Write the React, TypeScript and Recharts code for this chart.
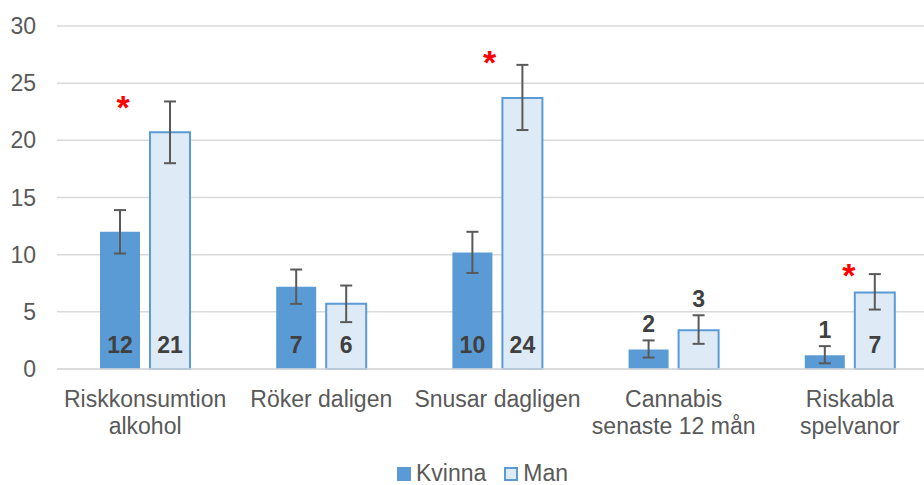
import {
  Bar,
  CartesianGrid,
  ComposedChart,
  ErrorBar,
  LabelList,
  Legend,
  Scatter,
  XAxis,
  YAxis,
} from 'recharts';

const categories = [
  'Riskkonsumtion\nalkohol',
  'Röker daligen',
  'Snusar dagligen',
  'Cannabis\nsenaste 12 mån',
  'Riskabla\nspelvanor',
];

const kvinna = [12.0, 7.2, 10.2, 1.7, 1.2];
const kvinnaLow = [10.1, 5.7, 8.4, 1.0, 0.5];
const kvinnaHigh = [13.9, 8.7, 12.0, 2.5, 2.0];
const kvinnaLabels = [12, 7, 10, 2, 1];

const man = [20.7, 5.7, 23.7, 3.4, 6.7];
const manLow = [18.0, 4.1, 20.9, 2.2, 5.2];
const manHigh = [23.4, 7.3, 26.6, 4.7, 8.3];
const manLabels = [21, 6, 24, 3, 7];

// level of the red significance star (null = no star)
const stars = [23.6, null, 27.5, null, 8.9];

const yTicks = [0, 5, 10, 15, 20, 25, 30];

const font = '"Liberation Sans", Arial, sans-serif';
const KVINNA = '#5B9BD5';
const MAN_FILL = '#DEEBF7';
const TEXT = '#595959';

// stars were placed by hand in the original, nudge them sideways (px)
const starShift = [-22, 0, -8, 0, -1];

const chartData = categories.map((name, i) => ({
  name,
  kvinna: kvinna[i],
  kvinnaErr: [kvinna[i] - kvinnaLow[i], kvinnaHigh[i] - kvinna[i]],
  man: man[i],
  manErr: [man[i] - manLow[i], manHigh[i] - man[i]],
  star: stars[i],
}));

const valueLabel =
  (labels: number[], values: number[], highs: number[]) => (props: any) => {
    const { x, y, width, height, index } = props;
    const v = values[index];
    const bottom = y + height;
    const pxPerUnit = height / v;
    // small bars get the number above the error bar
    const baseline = v < 4 ? bottom - highs[index] * pxPerUnit - 8 : bottom - 16;
    return (
      <text
        x={x + width / 2}
        y={baseline}
        textAnchor="middle"
        fontFamily={font}
        fontSize={23}
        fontWeight="bold"
        fill="#404040"
      >
        {labels[index]}
      </text>
    );
  };

const CategoryTick = ({ x, y, payload }: any) => {
  const lines = String(payload.value).split('\n');
  return (
    <text x={x} y={y} textAnchor="middle" fontFamily={font} fontSize={23} fill={TEXT}>
      {lines.map((l, i) => (
        <tspan key={i} x={x} dy={i === 0 ? 36 : 27}>
          {l}
        </tspan>
      ))}
    </text>
  );
};

const Star = (props: any) => {
  const { cx, cy, payload, index } = props;
  if (payload == null || payload.star == null || cy == null || isNaN(cy)) return <g />;
  const fs = 34;
  return (
    <text
      x={cx + starShift[index]}
      y={cy + fs * 0.58}
      textAnchor="middle"
      fontFamily={font}
      fontSize={fs}
      fontWeight="bold"
      fill="#FF0000"
    >
      *
    </text>
  );
};

const LegendBox = () => (
  <div
    style={{
      height: 36,
      display: 'flex',
      justifyContent: 'center',
      alignItems: 'flex-end',
      paddingLeft: 27,
      fontFamily: font,
      fontSize: 23,
      lineHeight: '23px',
      color: TEXT,
    }}
  >
    <span style={{ display: 'flex', alignItems: 'center', marginRight: 18 }}>
      <span style={{ width: 14, height: 14, background: KVINNA, marginRight: 5 }} />
      Kvinna
    </span>
    <span style={{ display: 'flex', alignItems: 'center' }}>
      <span
        style={{
          width: 10,
          height: 10,
          background: MAN_FILL,
          border: `2px solid ${KVINNA}`,
          marginRight: 5,
        }}
      />
      Man
    </span>
  </div>
);

export default function App() {
  return (
    <div style={{ width: 924, height: 485, overflow: 'hidden', position: 'relative', background: '#fff' }}>
      <style>{'body{margin:0}'}</style>
      <ComposedChart
        width={945}
        height={485}
        data={chartData}
        margin={{ top: 26, right: 7, left: 0, bottom: 0 }}
        barSize={40}
        barGap={10}
      >
        <CartesianGrid vertical={false} stroke="#D9D9D9" strokeWidth={1.5} />
        <XAxis
          dataKey="name"
          height={80}
          interval={0}
          tickLine={false}
          tickSize={0}
          axisLine={{ stroke: '#D9D9D9', strokeWidth: 1.5 }}
          tick={<CategoryTick />}
        />
        <YAxis
          width={57}
          domain={[0, 30]}
          ticks={yTicks}
          axisLine={false}
          tickLine={false}
          tickSize={0}
          tickMargin={21}
          tick={{ fill: TEXT, fontSize: 23, fontFamily: font }}
        />
        <Legend verticalAlign="bottom" height={36} content={() => <LegendBox />} />
        <Bar dataKey="kvinna" name="Kvinna" fill={KVINNA} isAnimationActive={false}>
          <ErrorBar dataKey="kvinnaErr" width={6} stroke="#595959" strokeWidth={2} />
          <LabelList dataKey="kvinna" content={valueLabel(kvinnaLabels, kvinna, kvinnaHigh)} />
        </Bar>
        <Bar
          dataKey="man"
          name="Man"
          fill={MAN_FILL}
          stroke={KVINNA}
          strokeWidth={2}
          isAnimationActive={false}
        >
          <ErrorBar dataKey="manErr" width={6} stroke="#595959" strokeWidth={2} />
          <LabelList dataKey="man" content={valueLabel(manLabels, man, manHigh)} />
        </Bar>
        <Scatter dataKey="star" shape={<Star />} legendType="none" isAnimationActive={false} />
      </ComposedChart>
    </div>
  );
}
